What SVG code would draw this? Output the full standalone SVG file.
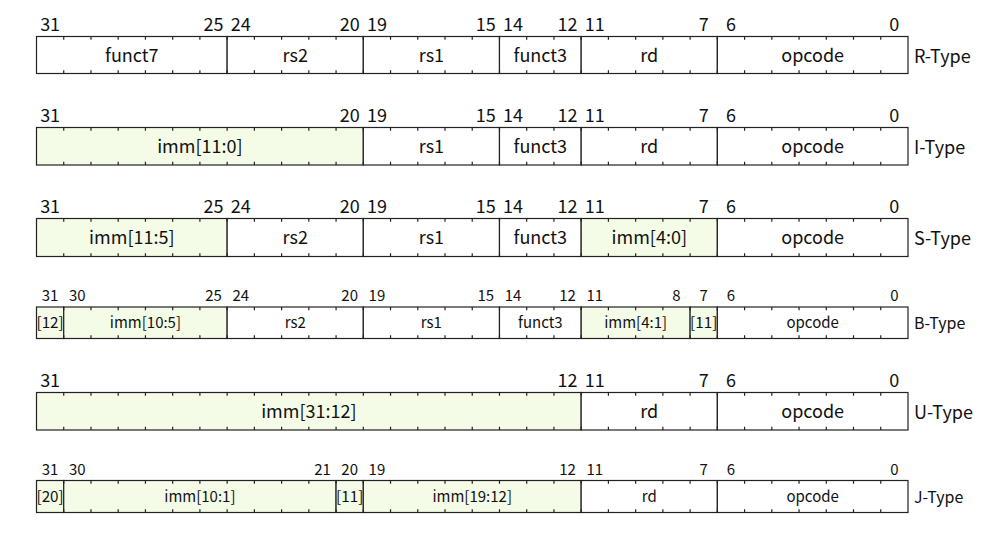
<svg xmlns="http://www.w3.org/2000/svg" xmlns:xlink="http://www.w3.org/1999/xlink" width="996" height="535" viewBox="0 0 996 535">
<style>
text{font-family:"Noto Sans CJK JP","Noto Sans",sans-serif;fill:#111}
.f{stroke:#222;stroke-width:1.2;fill:#fff}
.g{stroke:#222;stroke-width:1.2;fill:#f4fbe6}
.tk{stroke:#222;stroke-width:1.2;fill:none}
.n{font-size:18px;text-anchor:middle}
.ns{font-size:15px;text-anchor:middle}
.l{font-size:18px;text-anchor:middle}
.ls{font-size:15px;text-anchor:middle}
.t{font-size:18px}
.ts{font-size:16px}
</style>
<defs>
<path id="tt" class="tk" d="M63.73 0v3.3M90.97 0v3.3M118.2 0v3.3M145.44 0v3.3M172.67 0v3.3M199.9 0v3.3M227.14 0v3.3M254.37 0v3.3M281.61 0v3.3M308.84 0v3.3M336.07 0v3.3M363.31 0v3.3M390.54 0v3.3M417.78 0v3.3M445.01 0v3.3M472.24 0v3.3M499.48 0v3.3M526.71 0v3.3M553.95 0v3.3M581.18 0v3.3M608.41 0v3.3M635.65 0v3.3M662.88 0v3.3M690.12 0v3.3M717.35 0v3.3M744.58 0v3.3M771.82 0v3.3M799.05 0v3.3M826.29 0v3.3M853.52 0v3.3M880.75 0v3.3"/>
<path id="tb" class="tk" d="M63.73 0v-3.3M90.97 0v-3.3M118.2 0v-3.3M145.44 0v-3.3M172.67 0v-3.3M199.9 0v-3.3M227.14 0v-3.3M254.37 0v-3.3M281.61 0v-3.3M308.84 0v-3.3M336.07 0v-3.3M363.31 0v-3.3M390.54 0v-3.3M417.78 0v-3.3M445.01 0v-3.3M472.24 0v-3.3M499.48 0v-3.3M526.71 0v-3.3M553.95 0v-3.3M581.18 0v-3.3M608.41 0v-3.3M635.65 0v-3.3M662.88 0v-3.3M690.12 0v-3.3M717.35 0v-3.3M744.58 0v-3.3M771.82 0v-3.3M799.05 0v-3.3M826.29 0v-3.3M853.52 0v-3.3M880.75 0v-3.3"/>
</defs>

<g id="r-type">
<rect class="f" x="36.5" y="36.5" width="190.64" height="37"/>
<rect class="f" x="227.14" y="36.5" width="136.17" height="37"/>
<rect class="f" x="363.31" y="36.5" width="136.17" height="37"/>
<rect class="f" x="499.48" y="36.5" width="81.7" height="37"/>
<rect class="f" x="581.18" y="36.5" width="136.17" height="37"/>
<rect class="f" x="717.35" y="36.5" width="190.64" height="37"/>
<use xlink:href="#tt" y="36.5"/><use xlink:href="#tb" y="73.5"/>
<g class="n"><text x="50.12" y="30.5">31</text><text x="213.52" y="30.5">25</text><text x="240.76" y="30.5">24</text><text x="349.69" y="30.5">20</text><text x="376.93" y="30.5">19</text><text x="485.86" y="30.5">15</text><text x="513.1" y="30.5">14</text><text x="567.56" y="30.5">12</text><text x="594.8" y="30.5">11</text><text x="703.73" y="30.5">7</text><text x="730.97" y="30.5">6</text><text x="894.37" y="30.5">0</text></g>
<g class="l"><text x="131.82" y="61.5">funct7</text><text x="295.22" y="61.5">rs2</text><text x="431.4" y="61.5">rs1</text><text x="540.33" y="61.5">funct3</text><text x="649.27" y="61.5">rd</text><text x="812.67" y="61.5">opcode</text></g>
<text class="t" x="914" y="62.5">R-Type</text>
</g>

<g id="i-type">
<rect class="g" x="36.5" y="127.5" width="326.81" height="37.5"/>
<rect class="f" x="363.31" y="127.5" width="136.17" height="37.5"/>
<rect class="f" x="499.48" y="127.5" width="81.7" height="37.5"/>
<rect class="f" x="581.18" y="127.5" width="136.17" height="37.5"/>
<rect class="f" x="717.35" y="127.5" width="190.64" height="37.5"/>
<use xlink:href="#tt" y="127.5"/><use xlink:href="#tb" y="165"/>
<g class="n"><text x="50.12" y="121.5">31</text><text x="349.69" y="121.5">20</text><text x="376.93" y="121.5">19</text><text x="485.86" y="121.5">15</text><text x="513.1" y="121.5">14</text><text x="567.56" y="121.5">12</text><text x="594.8" y="121.5">11</text><text x="703.73" y="121.5">7</text><text x="730.97" y="121.5">6</text><text x="894.37" y="121.5">0</text></g>
<g class="l"><text x="199.9" y="152.75">imm[11:0]</text><text x="431.4" y="152.75">rs1</text><text x="540.33" y="152.75">funct3</text><text x="649.27" y="152.75">rd</text><text x="812.67" y="152.75">opcode</text></g>
<text class="t" x="914" y="153.75">I-Type</text>
</g>

<g id="s-type">
<rect class="g" x="36.5" y="218.5" width="190.64" height="38"/>
<rect class="f" x="227.14" y="218.5" width="136.17" height="38"/>
<rect class="f" x="363.31" y="218.5" width="136.17" height="38"/>
<rect class="f" x="499.48" y="218.5" width="81.7" height="38"/>
<rect class="g" x="581.18" y="218.5" width="136.17" height="38"/>
<rect class="f" x="717.35" y="218.5" width="190.64" height="38"/>
<use xlink:href="#tt" y="218.5"/><use xlink:href="#tb" y="256.5"/>
<g class="n"><text x="50.12" y="212.5">31</text><text x="213.52" y="212.5">25</text><text x="240.76" y="212.5">24</text><text x="349.69" y="212.5">20</text><text x="376.93" y="212.5">19</text><text x="485.86" y="212.5">15</text><text x="513.1" y="212.5">14</text><text x="567.56" y="212.5">12</text><text x="594.8" y="212.5">11</text><text x="703.73" y="212.5">7</text><text x="730.97" y="212.5">6</text><text x="894.37" y="212.5">0</text></g>
<g class="l"><text x="131.82" y="244">imm[11:5]</text><text x="295.22" y="244">rs2</text><text x="431.4" y="244">rs1</text><text x="540.33" y="244">funct3</text><text x="649.27" y="244">imm[4:0]</text><text x="812.67" y="244">opcode</text></g>
<text class="t" x="914" y="245">S-Type</text>
</g>

<g id="b-type">
<rect class="g" x="36.5" y="307" width="27.23" height="31.5"/>
<rect class="g" x="63.73" y="307" width="163.41" height="31.5"/>
<rect class="f" x="227.14" y="307" width="136.17" height="31.5"/>
<rect class="f" x="363.31" y="307" width="136.17" height="31.5"/>
<rect class="f" x="499.48" y="307" width="81.7" height="31.5"/>
<rect class="g" x="581.18" y="307" width="108.94" height="31.5"/>
<rect class="g" x="690.12" y="307" width="27.23" height="31.5"/>
<rect class="f" x="717.35" y="307" width="190.64" height="31.5"/>
<use xlink:href="#tt" y="307"/><use xlink:href="#tb" y="338.5"/>
<g class="ns"><text x="50.12" y="301">31</text><text x="77.35" y="301">30</text><text x="213.52" y="301">25</text><text x="240.76" y="301">24</text><text x="349.69" y="301">20</text><text x="376.93" y="301">19</text><text x="485.86" y="301">15</text><text x="513.1" y="301">14</text><text x="567.56" y="301">12</text><text x="594.8" y="301">11</text><text x="676.5" y="301">8</text><text x="703.73" y="301">7</text><text x="730.97" y="301">6</text><text x="894.37" y="301">0</text></g>
<g class="ls"><text x="145.44" y="328">imm[10:5]</text><text x="295.22" y="328">rs2</text><text x="431.4" y="328">rs1</text><text x="540.33" y="328">funct3</text><text x="635.65" y="328">imm[4:1]</text><text x="812.67" y="328">opcode</text></g>
<text class="ls" style="text-anchor:start" x="36.5" y="328" textLength="27.23" lengthAdjust="spacingAndGlyphs">[12]</text>
<text class="ls" style="text-anchor:start" x="690.12" y="328" textLength="27.23" lengthAdjust="spacingAndGlyphs">[11]</text>
<text class="ts" x="914" y="328.5">B-Type</text>
</g>

<g id="u-type">
<rect class="g" x="36.5" y="392.5" width="544.68" height="37.5"/>
<rect class="f" x="581.18" y="392.5" width="136.17" height="37.5"/>
<rect class="f" x="717.35" y="392.5" width="190.64" height="37.5"/>
<use xlink:href="#tt" y="392.5"/><use xlink:href="#tb" y="430"/>
<g class="n"><text x="50.12" y="386.5">31</text><text x="567.56" y="386.5">12</text><text x="594.8" y="386.5">11</text><text x="703.73" y="386.5">7</text><text x="730.97" y="386.5">6</text><text x="894.37" y="386.5">0</text></g>
<g class="l"><text x="308.84" y="417.75">imm[31:12]</text><text x="649.27" y="417.75">rd</text><text x="812.67" y="417.75">opcode</text></g>
<text class="t" x="914" y="418.75">U-Type</text>
</g>

<g id="j-type">
<rect class="g" x="36.5" y="480.5" width="27.23" height="32"/>
<rect class="g" x="63.73" y="480.5" width="272.34" height="32"/>
<rect class="g" x="336.07" y="480.5" width="27.24" height="32"/>
<rect class="g" x="363.31" y="480.5" width="217.87" height="32"/>
<rect class="f" x="581.18" y="480.5" width="136.17" height="32"/>
<rect class="f" x="717.35" y="480.5" width="190.64" height="32"/>
<use xlink:href="#tt" y="480.5"/><use xlink:href="#tb" y="512.5"/>
<g class="ns"><text x="50.12" y="475">31</text><text x="77.35" y="475">30</text><text x="322.46" y="475">21</text><text x="349.69" y="475">20</text><text x="376.93" y="475">19</text><text x="567.56" y="475">12</text><text x="594.8" y="475">11</text><text x="703.73" y="475">7</text><text x="730.97" y="475">6</text><text x="894.37" y="475">0</text></g>
<g class="ls"><text x="199.9" y="502">imm[10:1]</text><text x="472.24" y="502">imm[19:12]</text><text x="649.27" y="502">rd</text><text x="812.67" y="502">opcode</text></g>
<text class="ls" style="text-anchor:start" x="36.5" y="502" textLength="27.23" lengthAdjust="spacingAndGlyphs">[20]</text>
<text class="ls" style="text-anchor:start" x="336.07" y="502" textLength="27.24" lengthAdjust="spacingAndGlyphs">[11]</text>
<text class="ts" x="914" y="502.5">J-Type</text>
</g>
</svg>
